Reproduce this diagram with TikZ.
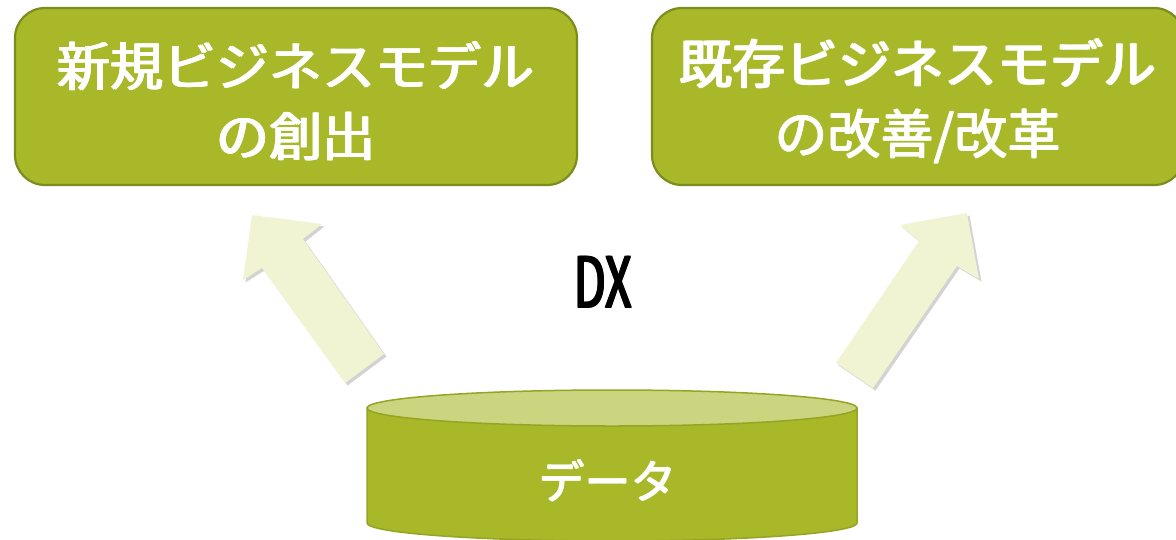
\documentclass[tikz,border=0pt]{standalone}
\usepackage{fontspec}
\newfontfamily\jp{Noto Sans CJK JP}
\usetikzlibrary{shadows}
\newcommand\emb[1]{\rlap{#1}\rlap{\hspace{1.2pt}#1}\rlap{\raisebox{0.8pt}{#1}}\hspace{1.2pt}\raisebox{0.8pt}{#1}}
\newcommand\embx[1]{\rlap{#1}\rlap{\hspace{2.4pt}#1}\rlap{\raisebox{1.2pt}{#1}}\hspace{2.4pt}\raisebox{1.2pt}{#1}}
\definecolor{boxfill}{HTML}{A8B828}
\definecolor{boxline}{HTML}{7E8C1E}
\definecolor{cyltop}{HTML}{CBD580}
\definecolor{cylline}{HTML}{96A424}
\definecolor{arrowfill}{HTML}{F0F4D2}
\tikzset{
  goalbox/.style={draw=boxline, line width=2.2pt, fill=boxfill, rounded corners=30pt},
  goaltext/.style={text=white, font=\jp\fontsize{53}{70}\selectfont, align=center},
  blockarrow/.style={fill=arrowfill, draw=none, drop shadow={opacity=0.35, shadow xshift=2.5pt, shadow yshift=-2.5pt}},
}
\begin{document}
\begin{tikzpicture}[x=1pt,y=-1pt]
\useasboundingbox (0,0) rectangle (1176,539);
% boxes
\draw[goalbox] (15,8) rectangle (577,185);
\node[goaltext] (left) at (296,101) {\emb{新規ビジネスモデル}\\\emb{の創出}};
\draw[goalbox] (652,8) rectangle (1184,185);
\node[goaltext] (right) at (918,101) {\emb{既存ビジネスモデル}\\\emb{の改善/改革}};
% arrows
\fill[blockarrow] (252,215) -- (322,224) -- (303,239) -- (384,354) -- (345,383) -- (262,268) -- (243,280) -- cycle;
\fill[blockarrow] (967,213) -- (979,279) -- (957,266) -- (873,388) -- (836,363) -- (919,241) -- (900,225) -- cycle;
% DX
\node (dx) at (603,282) {\jp\fontsize{70}{72}\selectfont\scalebox{0.66}[1]{\embx{DX}}};
% cylinder
\path[fill=boxfill, draw=cylline, line width=1.5pt]
  (367,408) -- (367,523) arc[start angle=180, end angle=0, x radius=245, y radius=18] -- (857,408) -- cycle;
\draw[fill=cyltop, draw=cylline, line width=1.5pt] (612,408) ellipse[x radius=245, y radius=18];
\node[text=white, font=\jp\fontsize{46}{50}\selectfont] (data) at (608,481) {\emb{データ}};
\end{tikzpicture}
\end{document}
